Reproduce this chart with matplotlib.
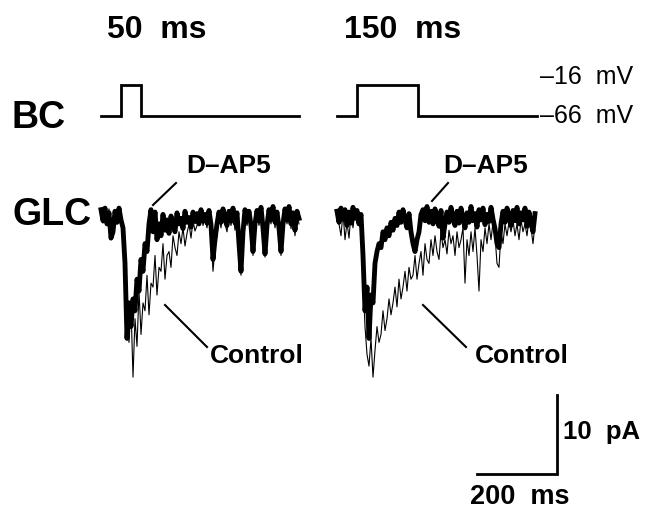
import numpy as np
import matplotlib
matplotlib.use("Agg")
import matplotlib.pyplot as plt

# ---------------- data ----------------
dt_ms = 5.0
# BC voltage command (mV): time points and values
bc_left_t = [0, 50, 50, 100, 100, 495]
bc_left_v = [-66, -66, -16, -16, -66, -66]
bc_right_t = [0, 50, 50, 202, 202, 500]
bc_right_v = [-66, -66, -16, -16, -66, -66]

# GLC currents (pA), sampled every 5 ms from 0 ms
dap5_left = [0.8, -0.6, 1.0, -1.0, 0.4, -2.8, -2.0, 0.6, -0.8, 1.0, -0.5, -1.5,
             -6.0, -15.5, -11.0, -14.0, -10.5, -12.0, -8.0, -9.5, -5.5, -7.0, -3.5, -4.5,
             -1.0, 0.8, -2.0, 0.5, -3.0, -1.0, -2.5, 0.2, -1.8, -0.5, -2.2, 0.0,
             -1.2, -2.0, 0.4, -1.0, -0.3, -1.6, 0.6, -0.8, -0.2, -1.4, 0.5, -0.7,
             0.3, -1.0, 0.8, -0.6, 0.2, -0.9, 0.7, -1.1, -5.5, -3.0, -1.0, 0.5,
             -0.8, 0.9, -0.4, -1.2, 0.6, -0.6, 1.0, -0.9, 0.4, -3.5, -7.0, -2.0,
             0.8, -0.5, 0.6, -1.2, -4.5, -1.0, 0.7, -0.6, 1.1, -1.5, -4.8, -1.2,
             0.8, -0.4, 1.2, -0.8, 0.5, -1.5, -4.5, -1.0, 0.9, -0.5, 1.2, -1.0,
             0.4, -1.8, 0.6, -0.3]
control_left = [0.3, -0.9, 0.7, -0.4, 0.9, -2.0, -1.5, 0.2, -0.5, 0.8, -0.9, -1.0,
                -8.0, -12.5, -16.0, -11.5, -20.4, -13.0, -16.5, -9.5, -15.0, -11.0, -12.0, -7.5,
                -12.5, -8.5, -9.0, -5.0, -10.0, -6.5, -7.0, -3.5, -8.0, -5.0, -4.5, -6.5,
                -2.5, -4.0, -5.0, -2.0, -3.5, -1.5, -3.8, -2.2, -1.0, -2.8, -0.6, -1.9,
                -1.2, -0.3, 0.5, -1.2, -0.2, -1.5, 0.3, -2.0, -7.0, -4.0, -2.5, 0.0,
                -1.5, 0.4, -1.0, -2.0, 0.2, -1.2, 0.5, -1.8, -0.5, -4.5, -7.5, -3.0,
                0.2, -1.2, 0.0, -2.0, -5.0, -1.8, 0.2, -1.2, 0.6, -2.2, -5.2, -2.0,
                0.3, -1.0, 0.7, -1.5, 0.0, -2.2, -5.0, -1.8, 0.4, -1.0, 0.7, -1.6,
                -0.2, -2.5, 0.1, -1.0]
dap5_right = [0.6, -0.8, 1.0, -0.4, 0.8, -1.2, 0.5, -0.9, 1.1, -0.3, 0.7, -1.0,
              0.2, -5.0, -12.0, -9.0, -15.5, -10.0, -11.0, -6.0, -4.5, -3.5, -4.0, -2.0,
              -3.0, -1.5, -2.5, -0.8, -1.8, -0.3, -1.2, 0.5, -0.8, 0.8, -0.5, -1.5,
              0.3, -2.0, -3.5, -4.5, -3.0, -2.0, 0.2, 0.8, -0.6, 1.2, -0.8, 0.6,
              -1.0, 0.9, -0.5, -1.3, 0.7, -2.8, -1.0, 0.5, -0.8, 1.1, -0.4, -1.2,
              0.6, -0.9, 1.0, -0.3, -1.5, 0.4, -0.8, 1.2, -0.6, 0.3, -1.4, 0.8,
              -0.5, 1.0, -1.1, 0.2, -0.7, 1.1, -0.4, -1.6, -3.5, -4.0, -1.0, 0.6,
              -0.8, 1.0, -0.3, -1.2, 0.7, -0.6, 1.1, -1.0, 0.4, -0.5, 1.0, -1.3,
              0.5, -0.9, -2.0, 0.3]
control_right = [0.2, -1.0, -2.5, 0.5, -3.0, -0.8, -2.8, 0.3, -1.5, 0.6, -0.9, 0.4,
                 -1.2, -8.0, -14.0, -17.5, -19.0, -15.5, -20.4, -17.0, -14.0, -16.0, -15.0, -12.0,
                 -14.5, -13.0, -10.5, -12.5, -11.0, -9.0, -11.5, -8.0, -10.5, -9.0, -7.0, -9.5,
                 -6.5, -8.0, -7.5, -5.0, -8.0, -6.0, -4.5, -7.5, -3.5, -5.5, -6.0, -3.0,
                 -5.0, -2.5, -4.5, -5.5, -2.0, -4.0, -3.0, -4.8, -1.8, -3.5, -2.5, -5.0,
                 -2.0, -4.0, -3.0, -1.5, -8.5, -3.0, -5.0, -2.0, -4.5, -1.5, -5.0, -9.5,
                 -3.0, -4.5, -1.5, -3.5, -1.0, -3.0, -0.8, -2.5, -6.0, -6.5, -2.0, -3.5,
                 -1.0, -2.5, -0.8, -2.0, -0.5, -2.5, -1.0, -3.0, -0.5, -2.0, -1.0, -2.5,
                 -0.3, -1.5, -3.5, -1.0]

scale_t_ms = 200
scale_i_pa = 10

# ---------------- layout ----------------
W, H = 645, 513
px_per_ms = 0.4
px_per_pa = 7.9
px_per_mv = 0.62
x0_left = 101          # pixel of t=0 for left sweep
sweep_gap_ms = 590     # offset of right sweep
base_i_pix = 216
base_v_pix = 116

fig = plt.figure(figsize=(W / 100, H / 100), dpi=100)
fig.patch.set_facecolor("white")

xlim = (-x0_left / px_per_ms, (W - x0_left) / px_per_ms)

ax_v = fig.add_axes([0, 0, 1, 1])
ax_v.set_xlim(*xlim)
ax_v.set_ylim(-66 - (H - base_v_pix) / px_per_mv, -66 + base_v_pix / px_per_mv)
ax_v.axis("off")

ax_i = fig.add_axes([0, 0, 1, 1])
ax_i.set_xlim(*xlim)
ax_i.set_ylim(-(H - base_i_pix) / px_per_pa, base_i_pix / px_per_pa)
ax_i.axis("off")
ax_i.patch.set_alpha(0)

ax_t = fig.add_axes([0, 0, 1, 1])
ax_t.set_xlim(0, W)
ax_t.set_ylim(H, 0)
ax_t.axis("off")
ax_t.patch.set_alpha(0)

# BC traces
ax_v.plot(bc_left_t, bc_left_v, color="black", lw=2.0, solid_joinstyle="miter")
ax_v.plot(np.array(bc_right_t) + sweep_gap_ms, bc_right_v, color="black", lw=2.0,
          solid_joinstyle="miter")

# GLC traces
t = np.arange(len(dap5_left)) * dt_ms
ax_i.plot(t, control_left, color="black", lw=0.8)
ax_i.plot(t, dap5_left, color="black", lw=3.5)
t2 = np.arange(len(dap5_right)) * dt_ms + sweep_gap_ms
ax_i.plot(t2, control_right, color="black", lw=0.8)
ax_i.plot(t2, dap5_right, color="black", lw=3.5)

# scale bars
sb_t = 1140
sb_i = -(474 - base_i_pix) / px_per_pa
ax_i.plot([sb_t - scale_t_ms, sb_t, sb_t], [sb_i, sb_i, sb_i + scale_i_pa],
          color="black", lw=2.0, solid_joinstyle="miter")

# text
fam = ["Liberation Sans", "DejaVu Sans"]
ax_t.text(157, 30, "50  ms", fontsize=23, fontweight="bold", ha="center", va="center", family=fam)
ax_t.text(403, 30, "150  ms", fontsize=23, fontweight="bold", ha="center", va="center", family=fam)
ax_t.text(12, 118, "BC", fontsize=27, fontweight="bold", ha="left", va="center", family=fam)
ax_t.text(12, 215, "GLC", fontsize=27, fontweight="bold", ha="left", va="center", family=fam)
ax_t.text(540, 77, "\u201316  mV", fontsize=18, ha="left", va="center", family=fam)
ax_t.text(540, 116, "\u201366  mV", fontsize=18, ha="left", va="center", family=fam)
ax_t.text(186, 166, "D\u2013AP5", fontsize=19, fontweight="bold", ha="left", va="center", family=fam)
ax_t.text(443, 166, "D\u2013AP5", fontsize=19, fontweight="bold", ha="left", va="center", family=fam)
ax_t.text(210, 356, "Control", fontsize=19, fontweight="bold", ha="left", va="center", family=fam)
ax_t.text(475, 356, "Control", fontsize=19, fontweight="bold", ha="left", va="center", family=fam)
ax_t.text(563, 432, "10  pA", fontsize=18.5, fontweight="bold", ha="left", va="center", family=fam)
ax_t.text(470, 497, "200  ms", fontsize=19.5, fontweight="bold", ha="left", va="center", family=fam)

# pointer lines
for (xa, ya, xb, yb) in [(153, 205, 176, 183), (165, 305, 207, 347),
                         (432, 201, 448, 183), (423, 305, 466, 347)]:
    ax_t.plot([xa, xb], [ya, yb], color="black", lw=1.5)

fig.savefig("out.png", dpi=100, facecolor="white")
